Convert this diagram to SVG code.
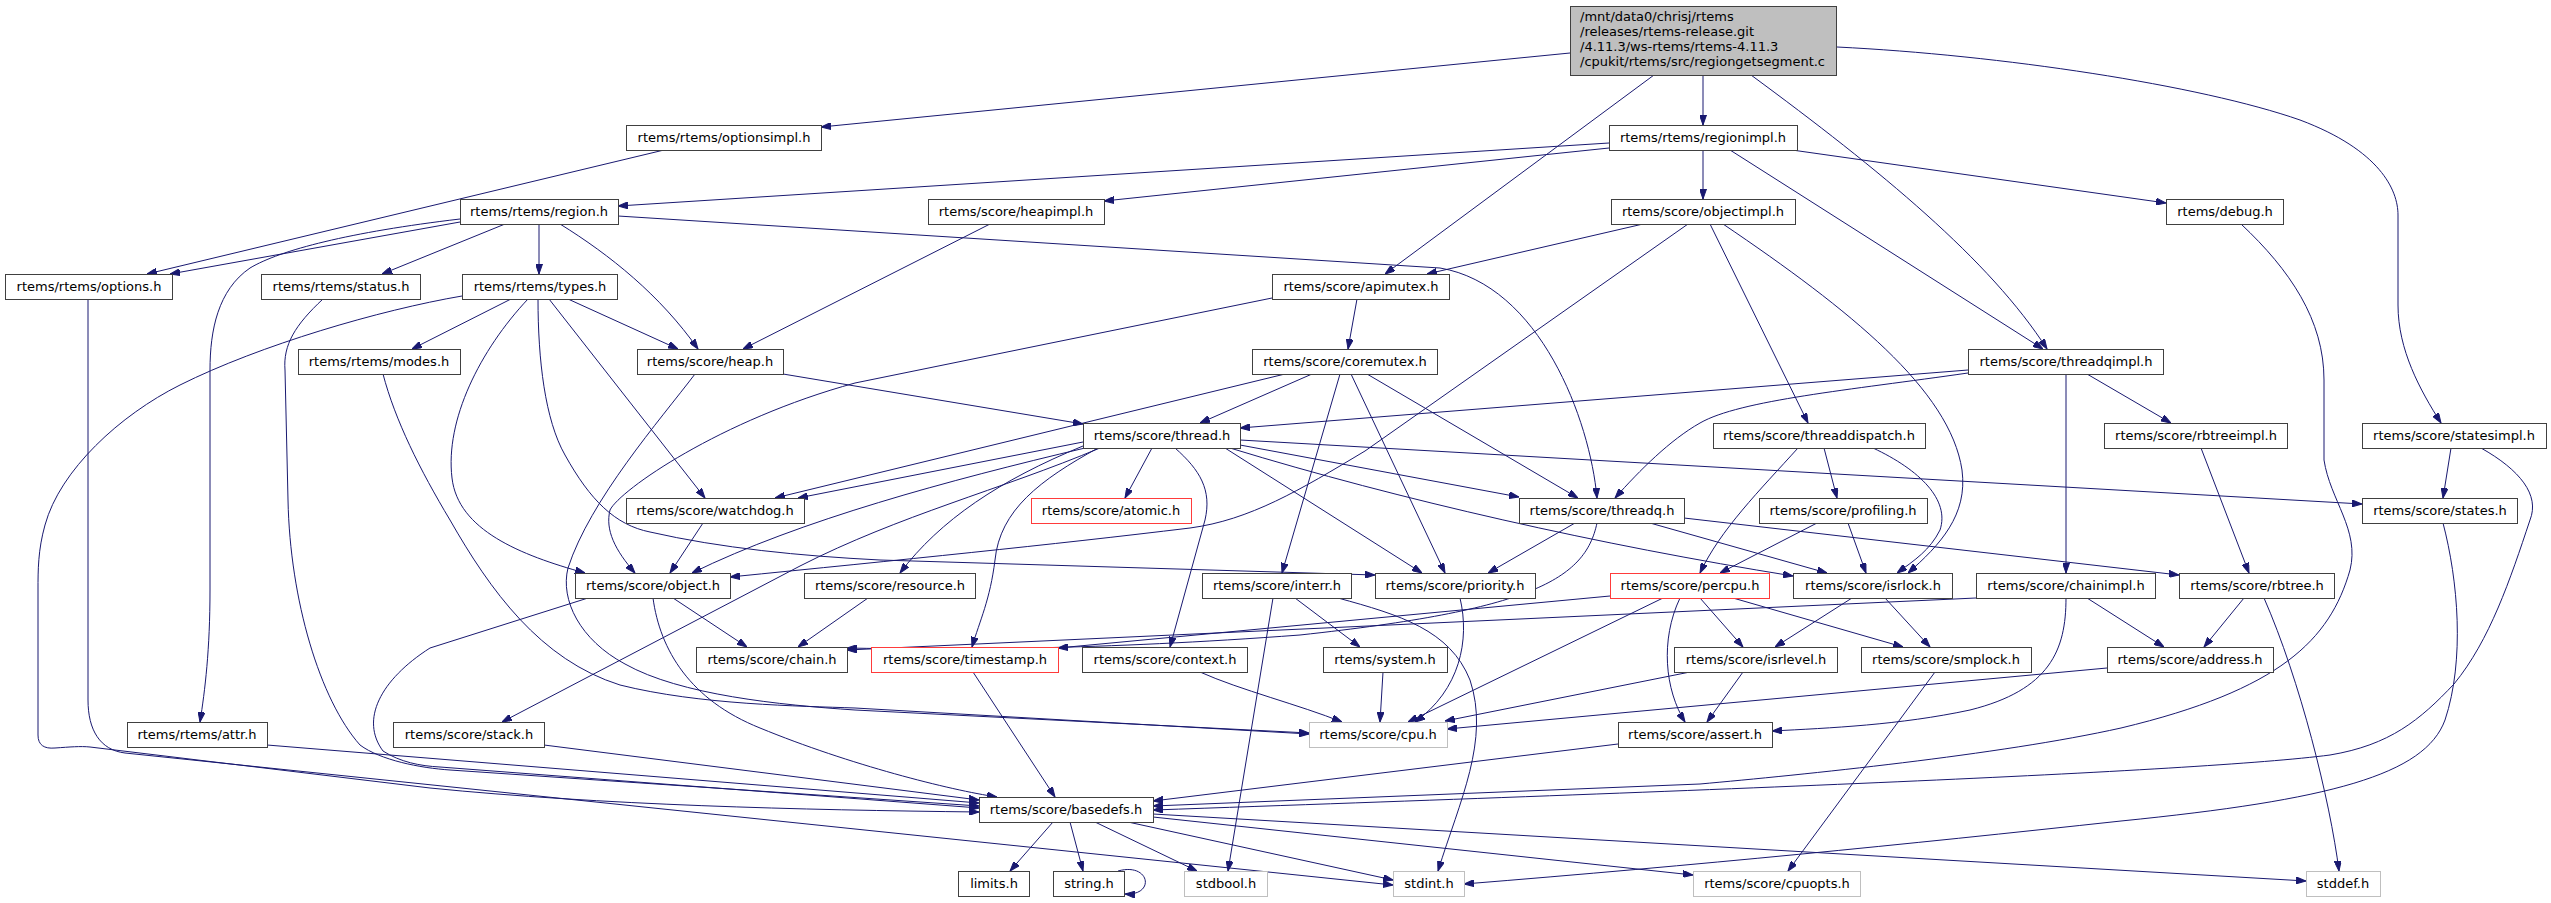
<svg xmlns="http://www.w3.org/2000/svg" width="2551" height="903" viewBox="0 0 2551 903">
<defs>
<marker id="a" markerWidth="10" markerHeight="7" refX="10" refY="3.5" orient="auto" markerUnits="userSpaceOnUse"><path d="M0,0 L10,3.5 L0,7 z" fill="#191970" stroke="#191970" stroke-width="1"/></marker>
<style>
.n rect{fill:#fff;stroke:#404040;stroke-width:1}
.n.r rect{stroke:#ff3b3b}
.n.g rect{stroke:#bfbfbf}
.n.m rect{fill:#bfbfbf;stroke:#404040}
text{font-family:"DejaVu Sans",sans-serif;font-size:13px;fill:#000;text-anchor:middle}
.n.m text{text-anchor:start}
#edges path{fill:none;stroke:#191970;stroke-width:1;marker-end:url(#a)}
</style>
</defs>
<rect width="2551" height="903" fill="#fff"/>
<g id="edges">
<path d="M1570,53 L821,127"/>
<path d="M1703,75 L1703,125"/>
<path d="M1654,75 L1385,274"/>
<path d="M1751,75 C1880,170 1990,260 2047,349"/>
<path d="M1837,47 C2000,55 2200,85 2300,120 C2380,150 2398,190 2398,215 L2398,305 C2398,350 2420,390 2441,423"/>
<path d="M664,150 L147,274"/>
<path d="M1609,143 L618,206"/>
<path d="M1609,148 L1104,201"/>
<path d="M1703,150 L1703,199"/>
<path d="M1792,150 L2166,203"/>
<path d="M1730,150 L2043,349"/>
<path d="M460,222 L170,274"/>
<path d="M460,219 C350,232 280,250 250,268 C218,290 210,330 210,370 L210,590 C210,650 205,690 200,722"/>
<path d="M505,224 L382,274"/>
<path d="M539,224 L539,274"/>
<path d="M560,224 C610,255 660,295 698,349"/>
<path d="M618,216 L1440,268 C1540,285 1590,420 1597,498"/>
<path d="M990,224 L743,349"/>
<path d="M1643,224 L1427,274"/>
<path d="M1688,224 L1365,451 C1300,490 1250,520 1190,528 C1050,545 900,560 730,577"/>
<path d="M1710,224 L1808,423"/>
<path d="M1723,224 C1850,310 1950,390 1962,470 C1968,515 1940,545 1908,573"/>
<path d="M2241,224 C2290,270 2324,320 2324,380 L2324,460 C2330,500 2360,530 2350,570 C2330,640 2280,690 2121,728 C2000,755 1800,775 1700,784 L1153,806"/>
<path d="M88,299 L88,700 C88,730 100,750 125,753 L1393,885"/>
<path d="M323,299 C295,325 283,345 285,370 L288,500 C290,600 320,700 360,745 C380,760 420,768 450,770 L979,806"/>
<path d="M511,299 L412,349"/>
<path d="M528,299 C480,350 445,420 452,478 C458,530 520,555 585,573"/>
<path d="M538,299 C538,360 545,420 565,455 C590,500 615,525 650,532 C720,548 800,556 880,560 L1375,575"/>
<path d="M549,299 L705,498"/>
<path d="M568,299 L678,349"/>
<path d="M462,296 C380,310 260,345 180,385 C120,415 60,470 45,525 C38,550 38,570 38,590 L38,735 C38,745 44,749 55,748 C70,747 80,746 90,747 L430,788 C600,805 800,810 979,812"/>
<path d="M383,374 C395,420 420,470 450,520 C490,590 540,660 620,685 C700,705 800,706 855,708 L1309,734"/>
<path d="M783,374 L1083,424"/>
<path d="M695,374 C660,420 590,500 568,568 C560,600 580,640 625,664 C680,695 780,705 855,710 L1309,733"/>
<path d="M1357,299 L1348,349"/>
<path d="M1272,298 L855,383 C720,420 620,490 610,510 C605,530 615,550 635,573"/>
<path d="M1312,374 L1200,423"/>
<path d="M1285,374 L775,498"/>
<path d="M1340,374 L1282,573"/>
<path d="M1351,374 L1445,573"/>
<path d="M1367,374 L1578,498"/>
<path d="M1968,370 L1240,428"/>
<path d="M1968,373 C1850,390 1740,400 1700,423 C1670,440 1640,470 1615,498"/>
<path d="M2066,374 L2066,573"/>
<path d="M2087,374 L2171,423"/>
<path d="M1152,448 L1125,498"/>
<path d="M1175,448 C1200,470 1212,490 1205,520 L1170,647"/>
<path d="M1098,448 C1040,480 1000,510 995,560 C990,600 980,620 972,647"/>
<path d="M1083,446 C1000,480 940,520 900,573"/>
<path d="M1100,448 C1000,490 900,515 800,566 L502,722"/>
<path d="M1083,442 L798,498"/>
<path d="M1085,448 C950,480 800,520 692,573"/>
<path d="M1240,445 L1519,497"/>
<path d="M1225,448 L1422,573"/>
<path d="M1240,440 L2362,504"/>
<path d="M1230,448 C1400,500 1600,545 1793,576"/>
<path d="M1798,448 C1760,490 1720,530 1700,573"/>
<path d="M1824,448 L1837,498"/>
<path d="M1873,448 C1920,470 1950,500 1940,530 C1930,550 1915,560 1897,573"/>
<path d="M1817,523 L1720,573"/>
<path d="M1848,523 L1866,573"/>
<path d="M1575,523 L1488,573"/>
<path d="M1650,523 L1827,573"/>
<path d="M1684,518 L2179,575"/>
<path d="M1597,523 C1585,580 1530,610 1300,635 C1100,650 950,650 847,648"/>
<path d="M1610,596 L1058,648"/>
<path d="M1663,598 L1408,722"/>
<path d="M1680,598 C1660,640 1665,690 1685,722"/>
<path d="M1700,598 L1743,647"/>
<path d="M1733,598 L1903,647"/>
<path d="M1852,598 L1775,647"/>
<path d="M1885,598 L1930,647"/>
<path d="M1976,598 L847,650"/>
<path d="M2066,598 C2066,650 2050,690 1970,710 C1900,725 1830,728 1772,731"/>
<path d="M2087,598 L2164,647"/>
<path d="M2201,448 L2249,573"/>
<path d="M2244,598 L2204,647"/>
<path d="M2264,598 C2300,680 2330,800 2339,871"/>
<path d="M2451,448 L2443,498"/>
<path d="M2481,448 C2520,470 2540,495 2530,520 C2510,580 2490,640 2454,684 C2420,720 2390,745 2330,755 C2200,772 1700,791 1153,810"/>
<path d="M2443,523 C2458,580 2465,660 2445,720 C2425,775 2330,800 2121,821 C1900,845 1700,865 1464,884"/>
<path d="M1295,598 L1360,647"/>
<path d="M1273,598 L1228,871"/>
<path d="M1338,598 C1400,615 1450,630 1470,680 C1490,740 1460,800 1438,871"/>
<path d="M1460,598 C1470,640 1460,690 1415,722"/>
<path d="M673,598 L747,647"/>
<path d="M653,598 C660,650 690,700 760,728 C850,765 950,790 997,797"/>
<path d="M588,598 L430,648 C380,680 360,720 383,751 C400,762 420,766 440,767 L979,808"/>
<path d="M868,598 L798,647"/>
<path d="M703,523 L670,573"/>
<path d="M973,672 L1055,797"/>
<path d="M1200,672 C1240,690 1300,705 1342,722"/>
<path d="M1383,672 L1380,722"/>
<path d="M1690,672 L1445,721"/>
<path d="M1743,672 L1707,722"/>
<path d="M1935,672 L1788,871"/>
<path d="M2107,668 L1447,729"/>
<path d="M1618,744 L1153,801"/>
<path d="M267,745 L979,803"/>
<path d="M544,745 L979,800"/>
<path d="M1053,822 L1010,871"/>
<path d="M1070,822 L1083,871"/>
<path d="M1095,822 L1197,871"/>
<path d="M1128,822 L1393,880"/>
<path d="M1153,817 L1693,875"/>
<path d="M1153,814 L2306,881"/>
<path d="M1118,871 C1150,862 1156,896 1125,894"/>
</g>
<g id="n_main" class="n m"><rect x="1570.5" y="6.5" width="266" height="69"/><text x="1580" y="21">/mnt/data0/chrisj/rtems</text><text x="1580" y="36">/releases/rtems-release.git</text><text x="1580" y="51">/4.11.3/ws-rtems/rtems-4.11.3</text><text x="1580" y="66">/cpukit/rtems/src/regiongetsegment.c</text></g>
<g id="n_optionsimpl" class="n"><rect x="626.5" y="125.5" width="195" height="25"/><text x="724" y="142">rtems/rtems/optionsimpl.h</text></g>
<g id="n_regionimpl" class="n"><rect x="1609.5" y="125.5" width="188" height="25"/><text x="1703" y="142">rtems/rtems/regionimpl.h</text></g>
<g id="n_region" class="n"><rect x="460.5" y="199.5" width="158" height="25"/><text x="539" y="216">rtems/rtems/region.h</text></g>
<g id="n_heapimpl" class="n"><rect x="928.5" y="199.5" width="176" height="25"/><text x="1016" y="216">rtems/score/heapimpl.h</text></g>
<g id="n_objectimpl" class="n"><rect x="1611.5" y="199.5" width="184" height="25"/><text x="1703" y="216">rtems/score/objectimpl.h</text></g>
<g id="n_debug" class="n"><rect x="2166.5" y="199.5" width="117" height="25"/><text x="2225" y="216">rtems/debug.h</text></g>
<g id="n_options" class="n"><rect x="5.5" y="274.5" width="167" height="25"/><text x="89" y="291">rtems/rtems/options.h</text></g>
<g id="n_status" class="n"><rect x="261.5" y="274.5" width="159" height="25"/><text x="341" y="291">rtems/rtems/status.h</text></g>
<g id="n_types" class="n"><rect x="462.5" y="274.5" width="155" height="25"/><text x="540" y="291">rtems/rtems/types.h</text></g>
<g id="n_apimutex" class="n"><rect x="1272.5" y="274.5" width="177" height="25"/><text x="1361" y="291">rtems/score/apimutex.h</text></g>
<g id="n_modes" class="n"><rect x="298.5" y="349.5" width="162" height="25"/><text x="379" y="366">rtems/rtems/modes.h</text></g>
<g id="n_heap" class="n"><rect x="637.5" y="349.5" width="146" height="25"/><text x="710" y="366">rtems/score/heap.h</text></g>
<g id="n_coremutex" class="n"><rect x="1252.5" y="349.5" width="185" height="25"/><text x="1345" y="366">rtems/score/coremutex.h</text></g>
<g id="n_threadqimpl" class="n"><rect x="1968.5" y="349.5" width="195" height="25"/><text x="2066" y="366">rtems/score/threadqimpl.h</text></g>
<g id="n_thread" class="n"><rect x="1083.5" y="423.5" width="157" height="25"/><text x="1162" y="440">rtems/score/thread.h</text></g>
<g id="n_threaddispatch" class="n"><rect x="1713.5" y="423.5" width="212" height="25"/><text x="1819" y="440">rtems/score/threaddispatch.h</text></g>
<g id="n_rbtreeimpl" class="n"><rect x="2104.5" y="423.5" width="183" height="25"/><text x="2196" y="440">rtems/score/rbtreeimpl.h</text></g>
<g id="n_statesimpl" class="n"><rect x="2362.5" y="423.5" width="184" height="25"/><text x="2454" y="440">rtems/score/statesimpl.h</text></g>
<g id="n_watchdog" class="n"><rect x="626.5" y="498.5" width="178" height="25"/><text x="715" y="515">rtems/score/watchdog.h</text></g>
<g id="n_atomic" class="n r"><rect x="1031.5" y="498.5" width="160" height="25"/><text x="1111" y="515">rtems/score/atomic.h</text></g>
<g id="n_threadq" class="n"><rect x="1519.5" y="498.5" width="165" height="25"/><text x="1602" y="515">rtems/score/threadq.h</text></g>
<g id="n_profiling" class="n"><rect x="1759.5" y="498.5" width="168" height="25"/><text x="1843" y="515">rtems/score/profiling.h</text></g>
<g id="n_states" class="n"><rect x="2362.5" y="498.5" width="155" height="25"/><text x="2440" y="515">rtems/score/states.h</text></g>
<g id="n_object" class="n"><rect x="575.5" y="573.5" width="155" height="25"/><text x="653" y="590">rtems/score/object.h</text></g>
<g id="n_resource" class="n"><rect x="804.5" y="573.5" width="171" height="25"/><text x="890" y="590">rtems/score/resource.h</text></g>
<g id="n_interr" class="n"><rect x="1202.5" y="573.5" width="149" height="25"/><text x="1277" y="590">rtems/score/interr.h</text></g>
<g id="n_priority" class="n"><rect x="1375.5" y="573.5" width="160" height="25"/><text x="1455" y="590">rtems/score/priority.h</text></g>
<g id="n_percpu" class="n r"><rect x="1610.5" y="573.5" width="159" height="25"/><text x="1690" y="590">rtems/score/percpu.h</text></g>
<g id="n_isrlock" class="n"><rect x="1793.5" y="573.5" width="159" height="25"/><text x="1873" y="590">rtems/score/isrlock.h</text></g>
<g id="n_chainimpl" class="n"><rect x="1976.5" y="573.5" width="179" height="25"/><text x="2066" y="590">rtems/score/chainimpl.h</text></g>
<g id="n_rbtree" class="n"><rect x="2179.5" y="573.5" width="155" height="25"/><text x="2257" y="590">rtems/score/rbtree.h</text></g>
<g id="n_chain" class="n"><rect x="696.5" y="647.5" width="151" height="25"/><text x="772" y="664">rtems/score/chain.h</text></g>
<g id="n_timestamp" class="n r"><rect x="871.5" y="647.5" width="187" height="25"/><text x="965" y="664">rtems/score/timestamp.h</text></g>
<g id="n_context" class="n"><rect x="1082.5" y="647.5" width="165" height="25"/><text x="1165" y="664">rtems/score/context.h</text></g>
<g id="n_system" class="n"><rect x="1323.5" y="647.5" width="124" height="25"/><text x="1385" y="664">rtems/system.h</text></g>
<g id="n_isrlevel" class="n"><rect x="1674.5" y="647.5" width="163" height="25"/><text x="1756" y="664">rtems/score/isrlevel.h</text></g>
<g id="n_smplock" class="n"><rect x="1861.5" y="647.5" width="170" height="25"/><text x="1946" y="664">rtems/score/smplock.h</text></g>
<g id="n_address" class="n"><rect x="2107.5" y="647.5" width="166" height="25"/><text x="2190" y="664">rtems/score/address.h</text></g>
<g id="n_attr" class="n"><rect x="127.5" y="722.5" width="140" height="25"/><text x="197" y="739">rtems/rtems/attr.h</text></g>
<g id="n_stack" class="n"><rect x="393.5" y="722.5" width="151" height="25"/><text x="469" y="739">rtems/score/stack.h</text></g>
<g id="n_cpu" class="n g"><rect x="1309.5" y="722.5" width="138" height="25"/><text x="1378" y="739">rtems/score/cpu.h</text></g>
<g id="n_assert" class="n"><rect x="1618.5" y="722.5" width="154" height="25"/><text x="1695" y="739">rtems/score/assert.h</text></g>
<g id="n_basedefs" class="n"><rect x="979.5" y="797.5" width="174" height="25"/><text x="1066" y="814">rtems/score/basedefs.h</text></g>
<g id="n_limits" class="n"><rect x="958.5" y="871.5" width="71" height="25"/><text x="994" y="888">limits.h</text></g>
<g id="n_string" class="n"><rect x="1053.5" y="871.5" width="71" height="25"/><text x="1089" y="888">string.h</text></g>
<g id="n_stdbool" class="n g"><rect x="1184.5" y="871.5" width="83" height="25"/><text x="1226" y="888">stdbool.h</text></g>
<g id="n_stdint" class="n g"><rect x="1393.5" y="871.5" width="71" height="25"/><text x="1429" y="888">stdint.h</text></g>
<g id="n_cpuopts" class="n g"><rect x="1693.5" y="871.5" width="167" height="25"/><text x="1777" y="888">rtems/score/cpuopts.h</text></g>
<g id="n_stddef" class="n g"><rect x="2306.5" y="871.5" width="74" height="25"/><text x="2343" y="888">stddef.h</text></g>
</svg>
